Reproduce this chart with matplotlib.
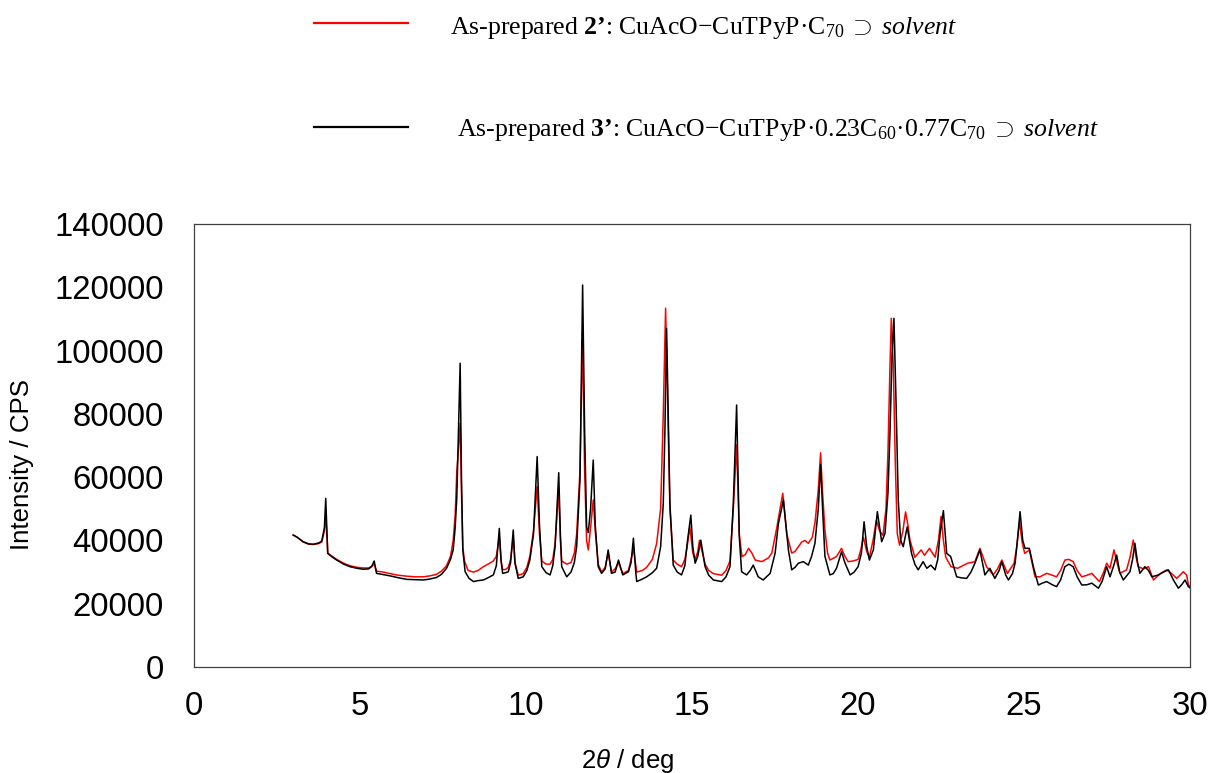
import matplotlib
matplotlib.use("Agg")
import matplotlib.pyplot as plt
from matplotlib.lines import Line2D

plt.rcParams['mathtext.fontset'] = 'custom'
plt.rcParams['mathtext.rm'] = 'Liberation Serif'
plt.rcParams['mathtext.it'] = 'Liberation Serif:italic'
plt.rcParams['mathtext.bf'] = 'Liberation Serif:bold'
plt.rcParams['mathtext.sf'] = 'Liberation Sans:italic'

# ---- data (2theta in deg, intensity in CPS) ----
theta_3 = [2.98, 3.10, 3.28, 3.45, 3.59, 3.75, 3.84, 3.92, 3.96, 4.00, 4.02, 4.15, 4.29, 4.50, 4.69,
           4.90, 5.09, 5.25, 5.34, 5.42, 5.49, 5.70, 5.90, 6.15, 6.40, 6.65, 6.90, 7.10, 7.30, 7.45,
           7.60, 7.72, 7.80, 7.86, 7.91, 7.96, 8.01, 8.05, 8.09, 8.16, 8.28, 8.41, 8.55, 8.71, 8.85,
           9.01, 9.10, 9.19, 9.24, 9.29, 9.38, 9.46, 9.53, 9.61, 9.66, 9.76, 9.91, 10.02, 10.11, 10.22,
           10.33, 10.40, 10.47, 10.60, 10.72, 10.80, 10.87, 10.98, 11.03, 11.07, 11.22, 11.35, 11.45,
           11.52, 11.62, 11.70, 11.76, 11.82, 11.87, 11.94, 12.02, 12.08, 12.17, 12.27, 12.38, 12.47,
           12.57, 12.68, 12.78, 12.91, 13.08, 13.16, 13.23, 13.30, 13.33, 13.50, 13.63, 13.80, 13.93,
           14.05, 14.13, 14.18, 14.23, 14.28, 14.33, 14.43, 14.55, 14.68, 14.78, 14.85, 14.96, 15.02,
           15.09, 15.17, 15.26, 15.39, 15.50, 15.64, 15.89, 16.02, 16.14, 16.24, 16.34, 16.42, 16.49,
           16.64, 16.75, 16.84, 16.99, 17.14, 17.35, 17.50, 17.60, 17.75, 17.90, 18.00, 18.10, 18.20,
           18.35, 18.50, 18.60, 18.70, 18.80, 18.87, 18.93, 19.00, 19.15, 19.25, 19.35, 19.50, 19.60,
           19.76, 19.88, 20.00, 20.10, 20.18, 20.26, 20.34, 20.46, 20.58, 20.71, 20.81, 20.90, 20.96,
           21.02, 21.08, 21.14, 21.21, 21.28, 21.36, 21.48, 21.61, 21.71, 21.81, 21.96, 22.07, 22.19,
           22.32, 22.40, 22.47, 22.57, 22.67, 22.79, 22.97, 23.10, 23.27, 23.40, 23.52, 23.67, 23.82,
           23.97, 24.12, 24.25, 24.33, 24.45, 24.53, 24.65, 24.73, 24.80, 24.88, 24.96, 25.03, 25.16,
           25.28, 25.43, 25.55, 25.68, 25.85, 25.98, 26.10, 26.23, 26.35, 26.48, 26.60, 26.74, 26.90,
           27.04, 27.24, 27.35, 27.49, 27.59, 27.70, 27.79, 27.88, 27.99, 28.19, 28.27, 28.34, 28.42,
           28.49, 28.64, 28.75, 28.85, 29.05, 29.20, 29.35, 29.50, 29.65, 29.75, 29.85, 29.95, 30.00]
cps_3 = [41700, 41000, 39600, 38900, 38800, 39200, 39800, 44000, 53300, 42000, 35900, 34800, 33800, 32500, 31700,
         31200, 30900, 31000, 31700, 33500, 29600, 29200, 28800, 28200, 27700, 27600, 27500, 27800, 28300, 29300,
         31200, 34000, 37000, 44000, 53800, 75000, 96000, 60000, 37000, 30100, 28000, 27000, 27300, 27500, 28200,
         29100, 32000, 43800, 34000, 29600, 29800, 30100, 33000, 43300, 33000, 28000, 28500, 30500, 33800, 42000,
         66500, 45000, 31700, 29800, 29100, 32000, 38000, 61400, 42000, 31700, 28500, 30000, 33000,
         38000, 59000, 120700, 75000, 44300, 42500, 50000, 65400, 45000, 31700, 29600, 31000, 37000,
         29600, 30000, 33800, 29100, 30100, 33000, 40700, 30000, 27000, 27800, 28500, 29800, 31200,
         38000, 51700, 75000, 107000, 80000, 51700, 32200, 30000, 29100, 32000, 39100, 48000, 38000,
         32800, 35000, 40100, 31700, 29000, 27500, 27000, 28500, 31700, 51700, 82800, 41200, 30100,
         29100, 30500, 32200, 28500, 27500, 29600, 36000, 45400, 52800, 37000, 30700, 31500, 32800,
         33300, 32200, 35000, 39100, 50000, 64000, 50000, 35000, 29100, 29500, 31200, 36400, 33000,
         29100, 30000, 31700, 36000, 45900, 38000, 33800, 37000, 49100, 39600, 42200, 55000, 73900,
         98000, 110200, 85000, 52800, 40100, 38000, 44300, 35900, 32500, 30700, 33300, 31200, 32200,
         30700, 34000, 42200, 49400, 35900, 34900, 28500, 28200, 28000, 30000, 32800, 37000, 29100,
         31200, 28000, 30500, 33300, 29000, 27500, 29500, 32800, 40000, 49100, 40000, 37500, 37500,
         31700, 25900, 26500, 27000, 26000, 25400, 27500, 31700, 32500, 31700, 28500, 25900, 26000,
         26500, 24900, 27000, 31700, 28500, 32000, 35400, 30000, 27500, 30100, 34000, 39100, 33000,
         29600, 31700, 30500, 28500, 29100, 30000, 30700, 27500, 24900, 26000, 27500, 25400, 25000]

theta_2 = [2.98, 3.10, 3.28, 3.45, 3.59, 3.75, 3.84, 3.92, 3.96, 4.00, 4.02, 4.15, 4.29, 4.50, 4.69,
           4.90, 5.09, 5.25, 5.34, 5.42, 5.49, 5.70, 5.90, 6.15, 6.40, 6.65, 6.90, 7.10, 7.30, 7.45,
           7.60, 7.72, 7.80, 7.86, 7.91, 7.96, 8.01, 8.05, 8.09, 8.14, 8.25, 8.41, 8.55, 8.71, 8.85,
           9.01, 9.10, 9.19, 9.25, 9.29, 9.38, 9.46, 9.53, 9.61, 9.66, 9.76, 9.91, 10.02, 10.11, 10.22,
           10.33, 10.40, 10.47, 10.60, 10.72, 10.80, 10.87, 10.98, 11.03, 11.07, 11.22, 11.35, 11.45,
           11.52, 11.62, 11.70, 11.76, 11.82, 11.87, 11.94, 12.02, 12.08, 12.17, 12.27, 12.38, 12.47,
           12.57, 12.68, 12.78, 12.91, 13.08, 13.16, 13.23, 13.33, 13.50, 13.63, 13.80, 13.93, 14.05,
           14.13, 14.20, 14.26, 14.33, 14.43, 14.55, 14.68, 14.78, 14.85, 14.93, 15.02, 15.09, 15.17,
           15.22, 15.39, 15.50, 15.64, 15.89, 16.02, 16.14, 16.24, 16.34, 16.42, 16.50, 16.60, 16.70,
           16.80, 16.90, 17.10, 17.30, 17.40, 17.55, 17.73, 17.85, 18.00, 18.10, 18.20, 18.30, 18.40,
           18.50, 18.62, 18.70, 18.80, 18.87, 18.93, 19.00, 19.08, 19.15, 19.35, 19.50, 19.60, 19.70,
           19.85, 20.00, 20.08, 20.16, 20.26, 20.34, 20.45, 20.55, 20.65, 20.75, 20.84, 20.90, 20.96,
           21.00, 21.06, 21.12, 21.18, 21.25, 21.35, 21.43, 21.50, 21.56, 21.71, 21.90, 22.00, 22.15,
           22.32, 22.42, 22.50, 22.57, 22.64, 22.80, 23.00, 23.30, 23.52, 23.67, 23.87, 24.07, 24.20,
           24.33, 24.50, 24.70, 24.78, 24.86, 24.95, 25.02, 25.16, 25.33, 25.48, 25.68, 25.85, 25.98,
           26.10, 26.23, 26.35, 26.48, 26.60, 26.74, 26.90, 27.04, 27.27, 27.40, 27.49, 27.59, 27.71,
           27.80, 27.89, 28.09, 28.20, 28.29, 28.37, 28.44, 28.60, 28.75, 28.90, 29.10, 29.30, 29.45,
           29.60, 29.80, 29.90, 29.95, 30.00]
cps_2 = [41700, 41000, 39500, 38800, 38700, 39000, 39500, 43000, 47500, 41000, 36000, 35000, 34000, 32800, 32000,
         31500, 31300, 31300, 31800, 32500, 30300, 30000, 29500, 29000, 28700, 28500, 28500, 28800, 29300, 30300,
         32000, 35000, 40000, 48000, 62000, 69000, 77000, 55000, 38000, 33500, 30500, 30000, 30500, 31700, 32500,
         33500, 35000, 41000, 33000, 30800, 30800, 31500, 34000, 41000, 33000, 29000, 29500, 31500, 35000, 43000,
         57000, 42000, 33500, 32500, 32500, 34000, 39000, 56000, 40000, 33500, 32500, 33000, 36000,
         42000, 62000, 105500, 62000, 40000, 37000, 44000, 52800, 43000, 32500, 30000, 31500, 36000,
         30000, 31000, 33000, 29500, 30500, 34000, 37500, 30000, 30500, 31500, 34000, 39000, 50000,
         80000, 113400, 85000, 50000, 33800, 32500, 31700, 34000, 38000, 44300, 36000, 34000, 36500,
         40000, 32500, 30500, 29500, 29000, 30500, 33500, 50000, 70200, 42000, 34900, 35500, 37500,
         36000, 33800, 33300, 34500, 36000, 44000, 54900, 42000, 36000, 36500, 38000, 39500, 40000,
         39100, 41000, 45500, 56000, 67700, 55000, 43300, 36000, 33800, 34900, 37500, 35000, 33300,
         33500, 34000, 37000, 41000, 36500, 34700, 40000, 46400, 43000, 41600, 50000, 68000, 95000,
         110200, 95000, 65000, 42200, 38500, 43000, 49000, 45000, 40200, 34700, 37000, 35300, 37500,
         34700, 40000, 47600, 40000, 34700, 31700, 31200, 32800, 33300, 37500, 31700, 29100, 31000,
         33800, 29600, 32800, 38000, 45900, 39000, 35900, 37000, 28500, 28500, 29600, 29000, 28500,
         30500, 33800, 34000, 33300, 30500, 28500, 29000, 29600, 27000, 30000, 32800, 31200, 37000,
         33000, 29600, 30700, 35000, 40100, 35000, 31700, 31000, 31700, 27500, 29500, 30700, 29500,
         28000, 30100, 29000, 26000, 25500]

x_ticks = [0, 5, 10, 15, 20, 25, 30]
y_ticks = [0, 20000, 40000, 60000, 80000, 100000, 120000, 140000]

label_2 = ("As-prepared $\\mathbf{2\u2019}$: CuAcO\u2212CuTPyP\u00b7"
           "C$_{\\mathrm{70}}\\;\\supset\\;\\mathit{solvent}$")
label_3 = ("As-prepared $\\mathbf{3\u2019}$: CuAcO\u2212CuTPyP\u00b70.23C$_{\\mathrm{60}}$"
           "\u00b70.77C$_{\\mathrm{70}}\\;\\supset\\;\\mathit{solvent}$")

# ---- figure ----
W, H = 1210, 773
fig = plt.figure(figsize=(W / 100, H / 100), dpi=100)
ax = fig.add_axes([194.3 / W, 1 - 667 / H, (1190 - 194.3) / W, (667 - 224) / H])

ax.plot(theta_2, cps_2, color='#ff0000', lw=1.1)
ax.plot(theta_3, cps_3, color='#000000', lw=1.1)

ax.set_xlim(0, 30)
ax.set_ylim(0, 140000)
ax.set_xticks(x_ticks)
ax.set_yticks(y_ticks)
ax.set_xticklabels([str(v) for v in x_ticks])
ax.set_yticklabels([str(v) for v in y_ticks])
for lab in ax.get_xticklabels() + ax.get_yticklabels():
    lab.set_fontfamily('Liberation Sans')
    lab.set_fontsize(23.7)
ax.tick_params(axis='x', length=0, pad=17)
ax.tick_params(axis='y', length=0, pad=22)
for s in ax.spines.values():
    s.set_color('#404040')
    s.set_linewidth(0.9)

fig.text(22 / W, 1 - 465 / H, 'Intensity / CPS', rotation=90, ha='center', va='center',
         fontfamily='Liberation Sans', fontsize=18.6)
fig.text(628 / W, 1 - 761 / H, '2$\\mathsf{\\theta}$ / deg', ha='center', va='center',
         fontfamily='Liberation Sans', fontsize=18.6)

# legend drawn as figure artists
for ypix, col in [(23, '#ff0000'), (127, '#000000')]:
    fig.add_artist(Line2D([314 / W, 408 / W], [1 - ypix / H, 1 - ypix / H], color=col, lw=1.6,
                          transform=fig.transFigure))
fig.text(450 / W, 1 - 34 / H, label_2, ha='left', va='baseline', fontfamily='Liberation Serif', fontsize=18.5)
fig.text(457 / W, 1 - 136 / H, label_3, ha='left', va='baseline', fontfamily='Liberation Serif', fontsize=18.5)

fig.savefig('out.png', dpi=100)
